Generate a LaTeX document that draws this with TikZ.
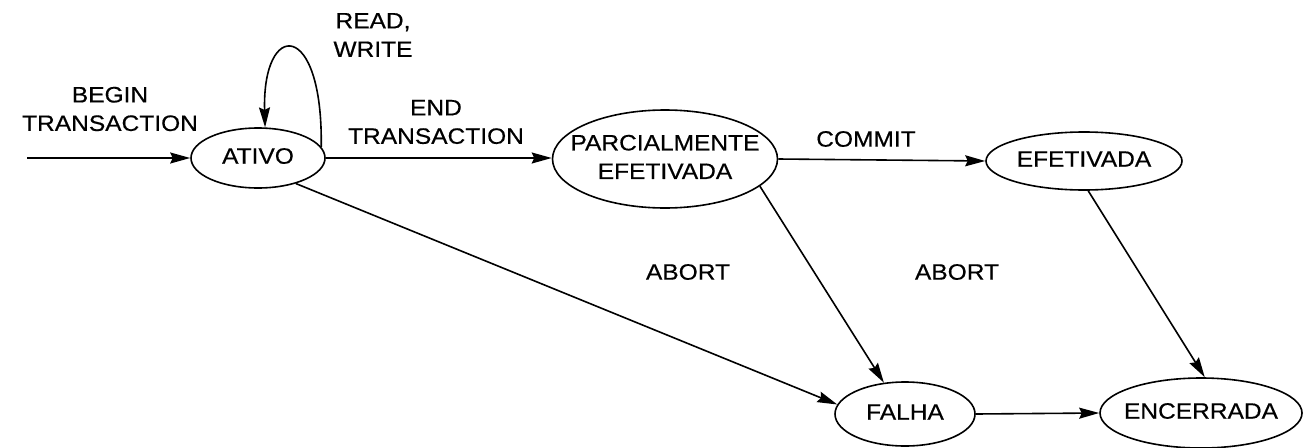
\documentclass[tikz,border=0pt]{standalone}
\usepackage{fontspec}
\setmainfont{Liberation Sans}[FakeStretch=1.1,FakeBold=0.5]
\usetikzlibrary{shapes.geometric,arrows.meta}
\newcommand{\zwtext}[1]{\makebox[0pt]{\begin{tabular}{@{}c@{}}#1\end{tabular}}}
\begin{document}
\begin{tikzpicture}[x=1pt,y=-1pt,
  state/.style={draw,ellipse,line width=1.6pt,inner sep=0pt},
  lbl/.style={align=center,inner sep=0pt},
  arr/.style={line width=1.6pt,-{Stealth[length=20pt,width=11pt,inset=2.5pt]}},
  every node/.append style={font=\fontsize{22.3}{28.5}\selectfont}]
\useasboundingbox (0,0) rectangle (1305,447);
\node[state,minimum width=134pt,minimum height=60pt] (ativo) at (258,158) {\zwtext{ATIVO}};
\node[state,minimum width=225pt,minimum height=98pt] (parcial) at (665,159) {\zwtext{PARCIALMENTE\\EFETIVADA}};
\node[state,minimum width=196pt,minimum height=58pt] (efet) at (1084,161) {\zwtext{EFETIVADA}};
\node[state,minimum width=140pt,minimum height=64pt] (falha) at (905,414) {\zwtext{FALHA}};
\node[state,minimum width=202pt,minimum height=70pt] (enc) at (1201,413) {\zwtext{ENCERRADA}};
\coordinate (start) at (27,158);
\node[lbl] (lbegin) at (110,109) {BEGIN\\TRANSACTION};
\node[lbl] (lrw) at (373,35) {READ,\\WRITE};
\node[lbl] (lend) at (436,122) {END\\TRANSACTION};
\node[lbl] (lcommit) at (866,139) {COMMIT};
\node[lbl] (labort1) at (688,272) {ABORT};
\node[lbl] (labort2) at (957,272) {ABORT};
\draw[arr] (start) -- (ativo.west);
\draw[arr] (ativo.10) .. controls +(2,-128) and +(-3,-108) .. (ativo.77);
\draw[arr] (ativo.east) -- (ativo.east -| parcial.west);
\draw[arr] (parcial.east) -- (efet.west);
\draw[arr] (ativo.-34) -- (falha.172);
\draw[arr] (parcial.-16) -- (falha.124);
\draw[arr] (efet.-82) -- (enc.84);
\draw[arr] (falha.east) -- (enc.west);
\end{tikzpicture}
\end{document}
